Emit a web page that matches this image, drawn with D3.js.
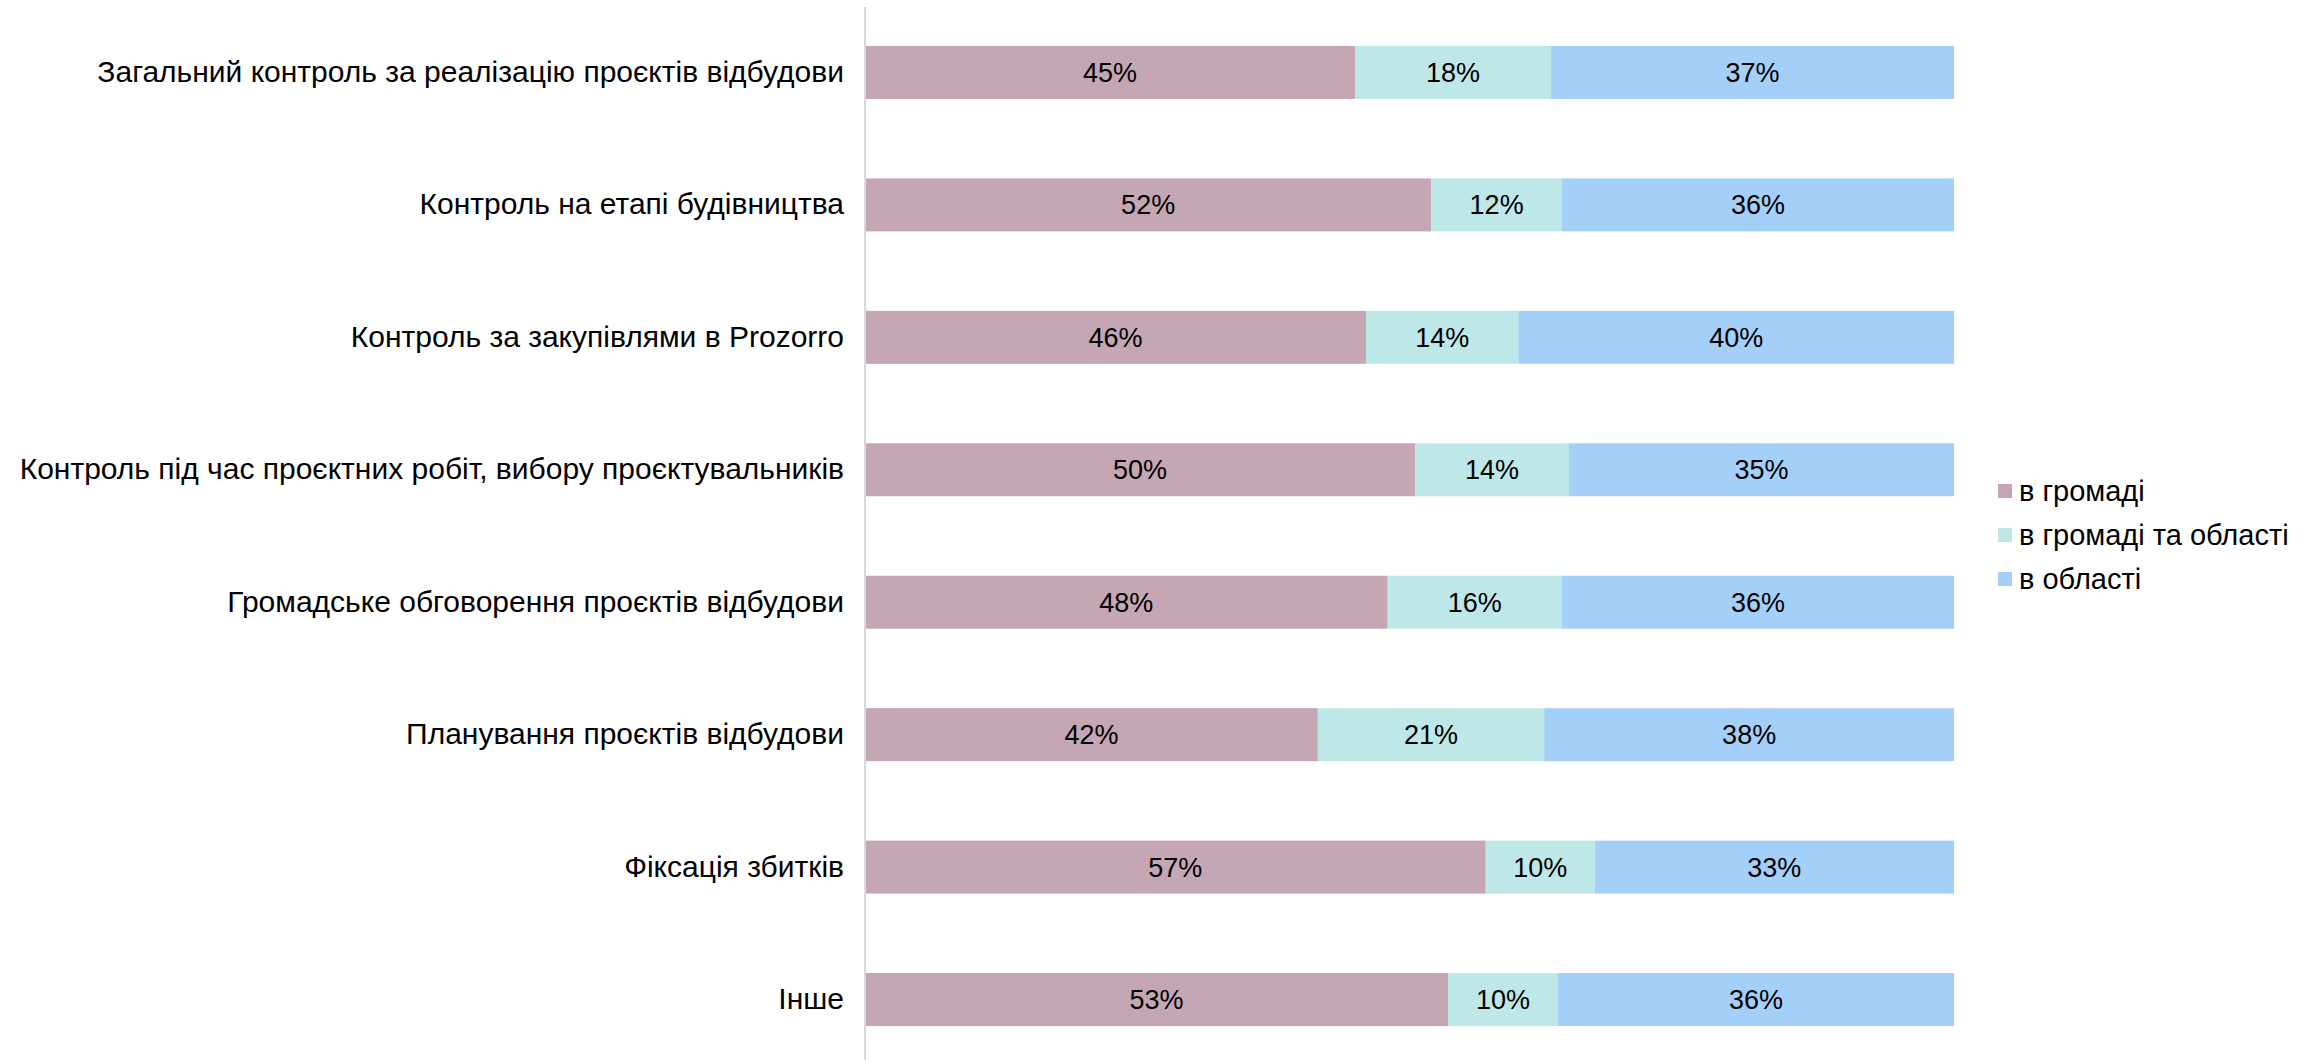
<!DOCTYPE html>
<html><head><meta charset="utf-8">
<script src="https://cdn.jsdelivr.net/npm/d3@7"></script>
<style>body{margin:0;background:#fff}svg{display:block}</style>
</head><body>
<svg id="c" width="2318" height="1060"></svg>
<script>
const categories = [
  "Загальний контроль за реалізацію проєктів відбудови",
  "Контроль на етапі будівництва",
  "Контроль за закупівлями в Prozorro",
  "Контроль під час проєктних робіт, вибору проєктувальників",
  "Громадське обговорення проєктів відбудови",
  "Планування проєктів відбудови",
  "Фіксація збитків",
  "Інше"
];
const seriesNames = ["в громаді", "в громаді та області", "в області"];
const community = [45, 52, 46, 50, 48, 42, 57, 53];
const both = [18, 12, 14, 14, 16, 21, 10, 10];
const region = [37, 36, 40, 35, 36, 38, 33, 36];
const colors = ["#c5a6b4", "#bee7e7", "#a4cff9"];

const svg = d3.select("#c");
const fontLabel = "'Liberation Sans', Arial, sans-serif";
const x = d3.scaleLinear().domain([0, 1]).range([865, 1954]);
const y = d3.scaleBand().domain(categories).range([0, 1072]).paddingInner(0.6).paddingOuter(0.347);

const rows = categories.map((c, i) => {
  const vals = [community[i], both[i], region[i]];
  const total = d3.sum(vals);
  let acc = 0;
  return vals.map((v, k) => { const s = {cat: c, k, v, x0: acc / total, x1: (acc + v) / total}; acc += v; return s; });
});

const g = svg.append("g");
rows.forEach(r => {
  r.forEach(s => {
    g.append("rect").attr("x", x(s.x0)).attr("y", y(s.cat))
      .attr("width", x(s.x1) - x(s.x0)).attr("height", y.bandwidth()).attr("fill", colors[s.k]);
    g.append("text").attr("x", (x(s.x0) + x(s.x1)) / 2).attr("y", y(s.cat) + y.bandwidth() / 2)
      .attr("dy", "0.35em").attr("text-anchor", "middle")
      .attr("font-family", fontLabel).attr("font-size", 27).attr("fill", "#000").text(s.v + "%");
  });
});

// axis
const yAxis = d3.axisLeft(y).tickSize(0).tickPadding(21);
const ax = svg.append("g").attr("transform", "translate(865,0)").call(yAxis);
ax.select(".domain").remove();
ax.selectAll("text").attr("font-family", fontLabel).attr("font-size", 30).attr("fill", "#000");
svg.append("line").attr("x1", 865).attr("x2", 865).attr("y1", 7).attr("y2", 1060)
  .attr("stroke", "#d9d9d9").attr("stroke-width", 2);

// legend
const lg = svg.append("g").attr("transform", "translate(1998,491)");
seriesNames.forEach((n, i) => {
  const r = lg.append("g").attr("transform", `translate(0,${i * 44})`);
  r.append("rect").attr("x", 0).attr("y", -7).attr("width", 14).attr("height", 14).attr("fill", colors[i]);
  r.append("text").attr("x", 21).attr("y", 0).attr("dy", "0.35em")
    .attr("font-family", fontLabel).attr("font-size", 29).attr("fill", "#000").text(n);
});
</script>
</body></html>
